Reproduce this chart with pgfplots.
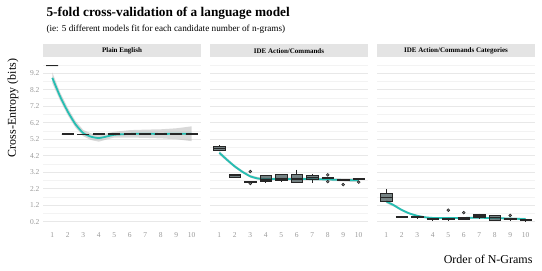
\documentclass[border=0pt]{standalone}
\usepackage{fontspec}
\setmainfont{Liberation Serif}
\usepackage{pgfplots}
\pgfplotsset{compat=1.18}
\usepgfplotslibrary{statistics}
\definecolor{teal1}{RGB}{38,190,178}
\definecolor{boxfill}{RGB}{60,78,80}
\pgfplotsset{
  panel/.style={
    scale only axis, width=158pt, height=170pt,
    anchor=south west,
    xmin=0.4, xmax=10.6, ymin=-0.18, ymax=10.12,
    xtick={1,...,10}, ytick={0.2,1.2,...,9.2}, minor ytick={0.7,1.7,...,9.7},
    ymajorgrids, yminorgrids,
    major grid style={draw={rgb,255:red,232;green,232;blue,232}, line width=0.7pt},
    minor grid style={draw={rgb,255:red,243;green,243;blue,243}, line width=0.5pt},
    axis line style={draw=none}, major tick length=0pt, minor tick length=0pt,
    tick style={draw=none},
    /pgf/number format/assume math mode=true,
    yticklabel style={/pgf/number format/fixed, /pgf/number format/fixed zerofill, /pgf/number format/precision=1},
    xticklabel style={/pgf/number format/fixed, /pgf/number format/precision=0, yshift=-1pt},
    ticklabel style={font=\fontsize{7.5}{8}\selectfont, text=black!40},
    clip=false,
    boxplot/draw direction=y,
    boxplot/every median/.style={line width=1.3pt},
  },
  bx/.style={boxplot prepared={#1, box extend=0.75, whisker extend=0},
    draw=black!85, fill=boxfill, fill opacity=0.7, line width=0.6pt,
    mark=*, mark size=1.4pt, mark options={fill=black!55, draw=none, fill opacity=0.85}},
  ribbon/.style={fill=black!30, fill opacity=0.5, draw=none},
  sline/.style={teal1, line width=1.8pt, smooth, tension=0.35},
}
\tikzset{strip/.style={anchor=south, fill={rgb,255:red,228;green,228;blue,228}, minimum width=158pt, minimum height=13pt, inner sep=0pt,
        font=\bfseries\fontsize{7}{8}\selectfont}}
\begin{document}
\begin{tikzpicture}
\useasboundingbox (0,0) rectangle (542pt,271pt);
% ---------------- Panel 1 ----------------
\begin{axis}[panel, name=p1, at={(43pt,43pt)}]
\addplot[ribbon] coordinates {(1,9.25) (1.5,8.05) (2,7.1) (2.5,6.3) (3,5.76) (3.5,5.55) (4,5.45) (4.5,5.55) (5,5.65) (6,5.75) (7,5.78) (8,5.8) (9,5.86) (10,5.98)
  (10,5.08) (9,5.2) (8,5.25) (7,5.28) (6,5.3) (5,5.3) (4.5,5.18) (4,5.05) (3.5,5.15) (3,5.38) (2.5,5.9) (2,6.65) (1.5,7.55) (1,8.6)} -- cycle;
\addplot[sline] coordinates {(1,8.92) (1.5,7.8) (2,6.87) (2.5,6.1) (3,5.57) (3.5,5.35) (4,5.27) (4.5,5.36) (5,5.47) (6,5.52) (7,5.53) (8,5.52) (9,5.53) (10,5.53)};
\addplot[bx={lower whisker=9.65, lower quartile=9.65, median=9.65, upper quartile=9.65, upper whisker=9.65, draw position=1}] coordinates {};
\addplot[bx={lower whisker=5.5, lower quartile=5.52, median=5.52, upper quartile=5.52, upper whisker=5.56, draw position=2}] coordinates {};
\addplot[bx={lower whisker=5.5, lower quartile=5.5, median=5.5, upper quartile=5.5, upper whisker=5.5, draw position=3}] coordinates {};
\addplot[bx={lower whisker=5.51, lower quartile=5.51, median=5.51, upper quartile=5.51, upper whisker=5.51, draw position=4}] coordinates {};
\addplot[bx={lower whisker=5.51, lower quartile=5.51, median=5.51, upper quartile=5.51, upper whisker=5.51, draw position=5}] coordinates {};
\addplot[bx={lower whisker=5.48, lower quartile=5.51, median=5.51, upper quartile=5.51, upper whisker=5.55, draw position=6}] coordinates {};
\addplot[bx={lower whisker=5.51, lower quartile=5.51, median=5.51, upper quartile=5.51, upper whisker=5.51, draw position=7}] coordinates {};
\addplot[bx={lower whisker=5.51, lower quartile=5.51, median=5.51, upper quartile=5.51, upper whisker=5.51, draw position=8}] coordinates {};
\addplot[bx={lower whisker=5.51, lower quartile=5.51, median=5.51, upper quartile=5.51, upper whisker=5.51, draw position=9}] coordinates {};
\addplot[bx={lower whisker=5.51, lower quartile=5.51, median=5.51, upper quartile=5.51, upper whisker=5.51, draw position=10}] coordinates {};
\end{axis}
% ---------------- Panel 2 ----------------
\begin{axis}[panel, name=p2, at={(210pt,43pt)}, yticklabels={}]
\addplot[ribbon] coordinates {(1,4.5) (1.5,4.05) (2,3.64) (2.5,3.3) (3,3.03) (3.5,2.9) (4,2.86) (5,2.87) (6,2.87) (7,2.86) (8,2.84) (9,2.82) (10,2.82)
  (10,2.6) (9,2.64) (8,2.68) (7,2.7) (6,2.71) (5,2.71) (4,2.7) (3.5,2.74) (3,2.87) (2.5,3.14) (2,3.46) (1.5,3.85) (1,4.26)} -- cycle;
\addplot[sline] coordinates {(1,4.38) (1.5,3.95) (2,3.55) (2.5,3.22) (3,2.95) (3.5,2.82) (4,2.78) (5,2.79) (6,2.79) (7,2.78) (8,2.76) (9,2.73) (10,2.71)};
\addplot[bx={lower whisker=4.5, lower quartile=4.52, median=4.62, upper quartile=4.76, upper whisker=4.85, draw position=1}] coordinates {};
\addplot[bx={lower whisker=2.85, lower quartile=2.92, median=3.0, upper quartile=3.1, upper whisker=3.1, draw position=2}] coordinates {};
\addplot[bx={lower whisker=2.58, lower quartile=2.6, median=2.62, upper quartile=2.64, upper whisker=2.66, draw position=3}] coordinates {(0,3.24) (0,2.52)};
\addplot[bx={lower whisker=2.6, lower quartile=2.62, median=2.72, upper quartile=3.0, upper whisker=3.02, draw position=4}] coordinates {};
\addplot[bx={lower whisker=2.65, lower quartile=2.68, median=2.78, upper quartile=3.08, upper whisker=3.08, draw position=5}] coordinates {};
\addplot[bx={lower whisker=2.57, lower quartile=2.58, median=2.78, upper quartile=3.08, upper whisker=3.35, draw position=6}] coordinates {};
\addplot[bx={lower whisker=2.55, lower quartile=2.75, median=2.9, upper quartile=3.04, upper whisker=3.1, draw position=7}] coordinates {};
\addplot[bx={lower whisker=2.82, lower quartile=2.84, median=2.87, upper quartile=2.91, upper whisker=2.93, draw position=8}] coordinates {(0,3.04) (0,2.63)};
\addplot[bx={lower whisker=2.68, lower quartile=2.7, median=2.72, upper quartile=2.75, upper whisker=2.76, draw position=9}] coordinates {(0,2.45)};
\addplot[bx={lower whisker=2.76, lower quartile=2.78, median=2.8, upper quartile=2.83, upper whisker=2.84, draw position=10}] coordinates {(0,2.6)};
\end{axis}
% ---------------- Panel 3 ----------------
\begin{axis}[panel, name=p3, at={(377pt,43pt)}, yticklabels={}]
\addplot[ribbon] coordinates {(1,1.54) (1.5,1.27) (2,0.98) (2.5,0.76) (3,0.61) (3.5,0.52) (4,0.48) (5,0.47) (6,0.48) (7,0.49) (8,0.47) (9,0.45) (10,0.43)
  (10,0.29) (9,0.33) (8,0.37) (7,0.39) (6,0.38) (5,0.37) (4,0.38) (3.5,0.42) (3,0.5) (2.5,0.64) (2,0.84) (1.5,1.11) (1,1.32)} -- cycle;
\addplot[sline] coordinates {(1,1.43) (1.5,1.19) (2,0.91) (2.5,0.7) (3,0.56) (3.5,0.47) (4,0.43) (5,0.42) (6,0.43) (7,0.44) (8,0.42) (9,0.39) (10,0.36)};
\addplot[bx={lower whisker=1.4, lower quartile=1.46, median=1.66, upper quartile=1.93, upper whisker=2.17, draw position=1}] coordinates {};
\addplot[bx={lower whisker=0.45, lower quartile=0.47, median=0.5, upper quartile=0.53, upper whisker=0.55, draw position=2}] coordinates {};
\addplot[bx={lower whisker=0.42, lower quartile=0.45, median=0.48, upper quartile=0.52, upper whisker=0.55, draw position=3}] coordinates {};
\addplot[bx={lower whisker=0.3, lower quartile=0.32, median=0.36, upper quartile=0.4, upper whisker=0.42, draw position=4}] coordinates {};
\addplot[bx={lower whisker=0.3, lower quartile=0.33, median=0.38, upper quartile=0.43, upper whisker=0.45, draw position=5}] coordinates {(0,0.9)};
\addplot[bx={lower whisker=0.33, lower quartile=0.35, median=0.4, upper quartile=0.44, upper whisker=0.46, draw position=6}] coordinates {(0,0.75)};
\addplot[bx={lower whisker=0.42, lower quartile=0.45, median=0.55, upper quartile=0.67, upper whisker=0.68, draw position=7}] coordinates {};
\addplot[bx={lower whisker=0.25, lower quartile=0.28, median=0.45, upper quartile=0.58, upper whisker=0.6, draw position=8}] coordinates {};
\addplot[bx={lower whisker=0.3, lower quartile=0.32, median=0.36, upper quartile=0.4, upper whisker=0.41, draw position=9}] coordinates {(0,0.58)};
\addplot[bx={lower whisker=0.25, lower quartile=0.27, median=0.32, upper quartile=0.37, upper whisker=0.38, draw position=10}] coordinates {};
\end{axis}
% strips
\node[strip] at ([yshift=0.5pt]p1.north) {Plain English};
\node[strip] at ([yshift=0.5pt]p2.north) {IDE Action/Commands};
\node[strip] at ([yshift=0.5pt]p3.north) {IDE Action/Commands Categories};
% titles and labels
\node[anchor=base west, font=\bfseries\fontsize{13.3}{15}\selectfont] at (43pt,254pt) {5-fold cross-validation of a language model};
\node[anchor=base west, font=\fontsize{9.2}{10}\selectfont] at (43pt,239.5pt) {(ie: 5 different models fit for each candidate number of n-grams)};
\node[rotate=90, font=\fontsize{12}{14}\selectfont] at (13pt,163pt) {Cross-Entropy (bits)};
\node[anchor=base east, font=\fontsize{12}{14}\selectfont] at (536pt,8pt) {Order of N-Grams};
\end{tikzpicture}
\end{document}
